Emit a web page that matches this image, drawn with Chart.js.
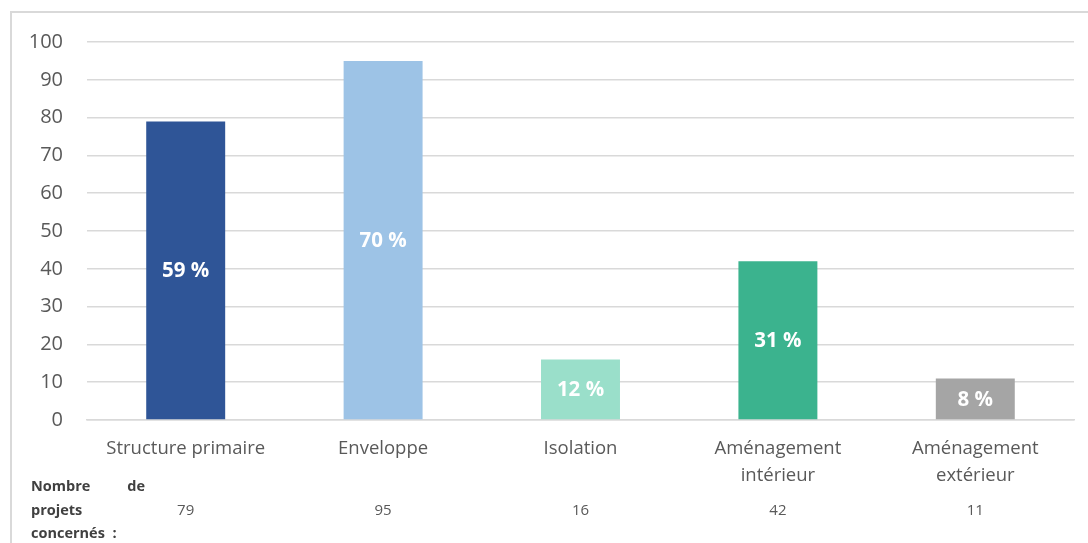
<!DOCTYPE html>
<html>
<head>
<meta charset="utf-8">
<script src="https://cdn.jsdelivr.net/npm/chart.js@4.4.0/dist/chart.umd.min.js"></script>
<style>
  html, body { margin: 0; padding: 0; background: #fff; overflow: hidden; }
  #wrap { position: relative; width: 1088px; height: 543px; }
  #frame { position: absolute; left: 10px; top: 11px; width: 1100px; height: 560px; border: 2px solid #d9d9d9; box-sizing: border-box; }
  canvas { position: absolute; left: 0; top: 0; }
</style>
</head>
<body>
<div id="wrap">
  <div id="frame"></div>
  <canvas id="chart" width="1088" height="543"></canvas>
</div>
<script>
const categories = ['Structure primaire', 'Enveloppe', 'Isolation', ['Aménagement', 'intérieur'], ['Aménagement', 'extérieur']];
const projectCounts = [79, 95, 16, 42, 11];
const shares = [59, 70, 12, 31, 8];
const barColors = ['#2f5597', '#9dc3e6', '#9adfca', '#3bb38e', '#a5a5a5'];
const yTicks = [0, 10, 20, 30, 40, 50, 60, 70, 80, 90, 100];

const FONT = '"Open Sans", "Noto Sans", sans-serif';

// percent labels centred inside each bar
const shareLabels = {
    id: 'shareLabels',
    afterDatasetsDraw(chart) {
        const ctx = chart.ctx;
        const meta = chart.getDatasetMeta(0);
        ctx.save();
        ctx.font = 'bold 20.5px ' + FONT;
        ctx.fillStyle = '#ffffff';
        ctx.textAlign = 'center';
        ctx.textBaseline = 'middle';
        meta.data.forEach((bar, i) => {
            const mid = (bar.y + bar.base) / 2;
            ctx.fillText(shares[i] + ' %', bar.x, mid + 1);
        });
        ctx.restore();
    }
};

// row under the axis with the number of projects
const countRow = {
    id: 'countRow',
    afterDraw(chart) {
        const ctx = chart.ctx;
        const x = chart.scales.x;
        ctx.save();
        ctx.font = 'bold 14.5px ' + FONT;
        ctx.fillStyle = '#404040';
        ctx.textBaseline = 'middle';
        ctx.textAlign = 'left';
        ctx.fillText('Nombre', 31, 487);
        ctx.textAlign = 'right';
        ctx.fillText('de', 145, 487);
        ctx.textAlign = 'left';
        ctx.fillText('projets', 31, 511);
        ctx.fillText('concernés  :', 31, 534);

        ctx.font = '15px ' + FONT;
        ctx.fillStyle = '#595959';
        ctx.textAlign = 'center';
        projectCounts.forEach((v, i) => {
            ctx.fillText(String(v), x.getPixelForValue(i), 511);
        });
        ctx.restore();
    }
};

new Chart(document.getElementById('chart'), {
    type: 'bar',
    data: {
        labels: categories,
        datasets: [{
            data: projectCounts,
            backgroundColor: barColors,
            borderWidth: 0,
            barPercentage: 0.4,
            categoryPercentage: 1
        }]
    },
    options: {
        responsive: false,
        animation: false,
        layout: { padding: { left: 0, right: 14, top: 42, bottom: 0 } },
        plugins: {
            legend: { display: false },
            tooltip: { enabled: false }
        },
        scales: {
            x: {
                grid: { display: false, drawTicks: false },
                border: { color: '#d9d9d9', width: 1.5 },
                ticks: {
                    color: '#595959',
                    font: { family: FONT, size: 18.5, lineHeight: 1.46 },
                    padding: 15,
                    maxRotation: 0,
                    autoSkip: false
                },
                afterFit(scale) { scale.height = 123; }
            },
            y: {
                min: 0,
                max: 100,
                afterBuildTicks(scale) { scale.ticks = yTicks.map(v => ({ value: v })); },
                grid: { color: '#d9d9d9', lineWidth: 1.5, drawTicks: false },
                border: { display: false },
                ticks: {
                    color: '#595959',
                    font: { family: FONT, size: 20 },
                    padding: 24
                },
                afterFit(scale) { scale.width = 87; }
            }
        }
    },
    plugins: [shareLabels, countRow]
});
</script>
</body>
</html>
